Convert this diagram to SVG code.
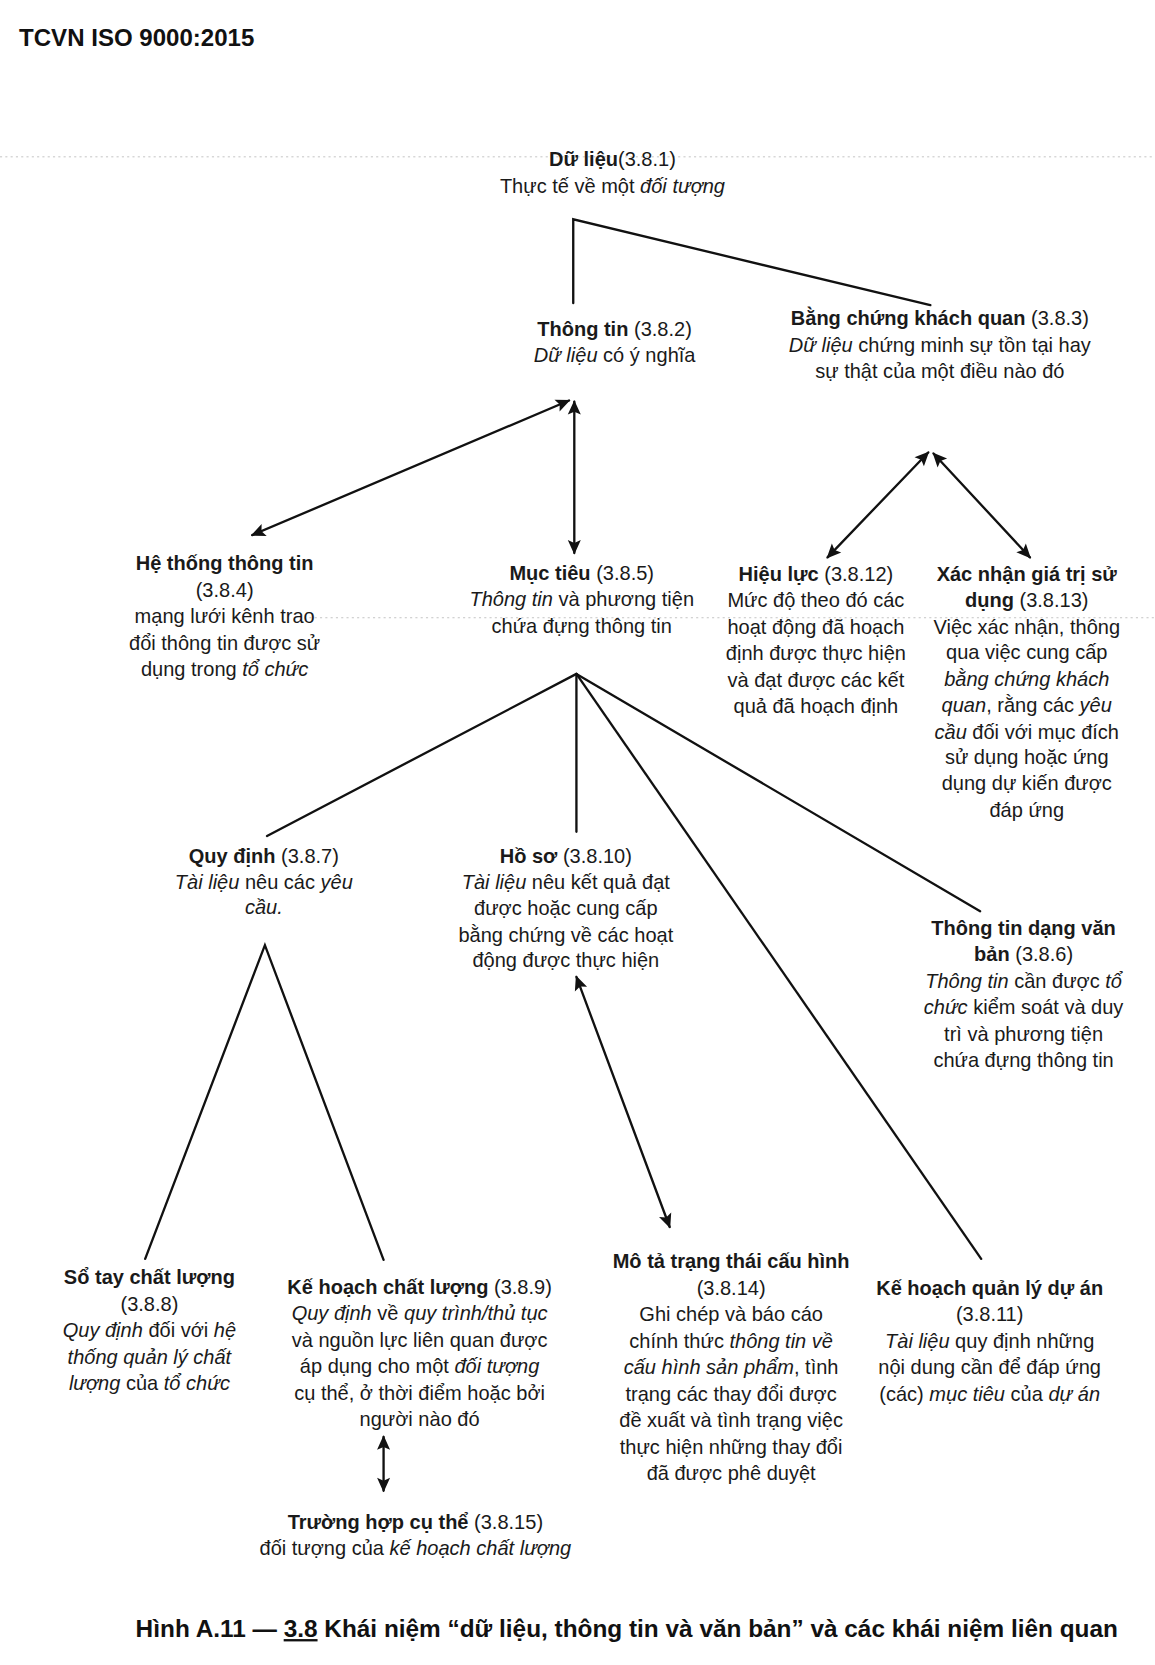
<svg xmlns="http://www.w3.org/2000/svg" width="1155" height="1665" viewBox="0 0 1155 1665">
<defs>
<style>
.t{font-family:"Liberation Sans",Arial,sans-serif;font-size:18.9px;fill:#1a1a1a;text-anchor:middle}
.b{font-weight:bold}
.i{font-style:italic}
.ln{stroke:#111;stroke-width:2.2;fill:none;stroke-linecap:round}
.da{marker-start:url(#ah);marker-end:url(#ah)}
.dot{stroke:#bbb;stroke-width:0.8;stroke-dasharray:2 3;fill:none}
</style>
<marker id="ah" viewBox="0 0 10 10" refX="9" refY="5" markerWidth="7" markerHeight="6.2" orient="auto-start-reverse" markerUnits="strokeWidth">
<path d="M0,0.5 L10,5 L0,9.5 L2,5 z" fill="#111"/>
</marker>
</defs>
<rect width="1155" height="1665" fill="#fff"/>
<g transform="scale(1.0596)">
<g id="artifacts">
<line class="dot" x1="0" y1="148" x2="1090" y2="148"/>
<line class="dot" x1="292" y1="583" x2="1090" y2="583"/>
</g>
<text id="title" x="18" y="43" style="font-family:'Liberation Sans',Arial,sans-serif;font-size:22.7px;font-weight:bold;fill:#111">TCVN ISO 9000:2015</text>

<g id="connectors">
<polyline class="ln" points="541,286 541,207 878,288"/>
<line class="ln da" x1="537" y1="378" x2="238" y2="505"/>
<line class="ln da" x1="542" y1="379" x2="542" y2="522"/>
<line class="ln da" x1="876" y1="427" x2="781" y2="526"/>
<line class="ln da" x1="881" y1="428" x2="972" y2="526"/>
<line class="ln" x1="544" y1="636" x2="252" y2="789"/>
<line class="ln" x1="544" y1="636" x2="544" y2="785"/>
<line class="ln" x1="544" y1="636" x2="925" y2="860"/>
<line class="ln" x1="544" y1="636" x2="926" y2="1188"/>
<polyline class="ln" points="137,1188 250,892 362,1189"/>
<line class="ln da" x1="544" y1="922" x2="632" y2="1158"/>
<line class="ln da" x1="362" y1="1356" x2="362" y2="1407"/>
</g>

<g id="n381" class="t">
<text x="578" y="157"><tspan class="b">Dữ liệu</tspan>(3.8.1)</text>
<text x="578" y="182">Thực tế về một <tspan class="i">đối tượng</tspan></text>
</g>
<g id="n382" class="t">
<text x="580" y="317"><tspan class="b">Thông tin</tspan> (3.8.2)</text>
<text x="580" y="342"><tspan class="i">Dữ liệu</tspan> có ý nghĩa</text>
</g>
<g id="n383" class="t">
<text x="887" y="307"><tspan class="b">Bằng chứng khách quan</tspan> (3.8.3)</text>
<text x="887" y="332"><tspan class="i">Dữ liệu</tspan> chứng minh sự tồn tại hay</text>
<text x="887" y="357">sự thật của một điều nào đó</text>
</g>
<g id="n384" class="t">
<text x="212" y="538" class="b">Hệ thống thông tin</text>
<text x="212" y="563">(3.8.4)</text>
<text x="212" y="588">mạng lưới kênh trao</text>
<text x="212" y="613">đổi thông tin được sử</text>
<text x="212" y="638">dụng trong <tspan class="i">tổ chức</tspan></text>
</g>
<g id="n385" class="t">
<text x="549" y="547"><tspan class="b">Mục tiêu</tspan> (3.8.5)</text>
<text x="549" y="572"><tspan class="i">Thông tin</tspan> và phương tiện</text>
<text x="549" y="597">chứa đựng thông tin</text>
</g>
<g id="n3812" class="t">
<text x="770" y="548"><tspan class="b">Hiệu lực</tspan> (3.8.12)</text>
<text x="770" y="573">Mức độ theo đó các</text>
<text x="770" y="598">hoạt động đã hoạch</text>
<text x="770" y="623">định được thực hiện</text>
<text x="770" y="648">và đạt được các kết</text>
<text x="770" y="673">quả đã hoạch định</text>
</g>
<g id="n3813" class="t">
<text x="969" y="548" class="b">Xác nhận giá trị sử</text>
<text x="969" y="573"><tspan class="b">dụng</tspan> (3.8.13)</text>
<text x="969" y="598">Việc xác nhận, thông</text>
<text x="969" y="622">qua việc cung cấp</text>
<text x="969" y="647" class="i">bằng chứng khách</text>
<text x="969" y="672"><tspan class="i">quan</tspan>, rằng các <tspan class="i">yêu</tspan></text>
<text x="969" y="697"><tspan class="i">cầu</tspan>  đối với mục đích</text>
<text x="969" y="721">sử dụng hoặc ứng</text>
<text x="969" y="746">dụng dự kiến được</text>
<text x="969" y="771">đáp ứng</text>
</g>
<g id="n387" class="t">
<text x="249" y="814"><tspan class="b">Quy định</tspan> (3.8.7)</text>
<text x="249" y="839"><tspan class="i">Tài liệu</tspan> nêu các <tspan class="i">yêu</tspan></text>
<text x="249" y="863" class="i">cầu.</text>
</g>
<g id="n3810" class="t">
<text x="534" y="814"><tspan class="b">Hồ sơ</tspan> (3.8.10)</text>
<text x="534" y="839"><tspan class="i">Tài liệu</tspan> nêu kết quả đạt</text>
<text x="534" y="864">được hoặc cung cấp</text>
<text x="534" y="889">bằng chứng về các hoạt</text>
<text x="534" y="913">động được thực hiện</text>
</g>
<g id="n386" class="t">
<text x="966" y="882" class="b">Thông tin dạng văn</text>
<text x="966" y="907"><tspan class="b">bản</tspan> (3.8.6)</text>
<text x="966" y="932"><tspan class="i">Thông tin</tspan> cần được <tspan class="i">tổ</tspan></text>
<text x="966" y="957"><tspan class="i">chức</tspan> kiểm soát và duy</text>
<text x="966" y="982">trì và phương tiện</text>
<text x="966" y="1007">chứa đựng thông tin</text>
</g>
<g id="n388" class="t">
<text x="141" y="1212" class="b">Sổ tay chất lượng</text>
<text x="141" y="1237">(3.8.8)</text>
<text x="141" y="1262"><tspan class="i">Quy định</tspan> đối với <tspan class="i">hệ</tspan></text>
<text x="141" y="1287" class="i">thống quản lý chất</text>
<text x="141" y="1312"><tspan class="i">lượng</tspan>  của <tspan class="i">tổ chức</tspan></text>
</g>
<g id="n389" class="t">
<text x="396" y="1221"><tspan class="b">Kế hoạch chất lượng</tspan> (3.8.9)</text>
<text x="396" y="1246"><tspan class="i">Quy định</tspan> về <tspan class="i">quy trình/thủ tục</tspan></text>
<text x="396" y="1271">và nguồn lực liên quan được</text>
<text x="396" y="1296">áp dụng cho một <tspan class="i">đối tượng</tspan></text>
<text x="396" y="1321">cụ thể, ở thời điểm hoặc bởi</text>
<text x="396" y="1346">người nào đó</text>
</g>
<g id="n3815" class="t">
<text x="392" y="1443"><tspan class="b">Trường hợp cụ thể</tspan> (3.8.15)</text>
<text x="392" y="1468">đối tượng của <tspan class="i">kế hoạch chất lượng</tspan></text>
</g>
<g id="n3814" class="t">
<text x="690" y="1197" class="b">Mô tả trạng thái cấu hình</text>
<text x="690" y="1222">(3.8.14)</text>
<text x="690" y="1247">Ghi chép và báo cáo</text>
<text x="690" y="1272">chính thức <tspan class="i">thông tin về</tspan></text>
<text x="690" y="1297"><tspan class="i">cấu hình sản phẩm</tspan>, tình</text>
<text x="690" y="1322">trạng các thay đổi được</text>
<text x="690" y="1347">đề xuất và tình trạng việc</text>
<text x="690" y="1372">thực hiện những thay đổi</text>
<text x="690" y="1397">đã được phê duyệt</text>
</g>
<g id="n3811" class="t">
<text x="934" y="1222" class="b">Kế hoạch quản lý dự án</text>
<text x="934" y="1247">(3.8.11)</text>
<text x="934" y="1272"><tspan class="i">Tài liệu</tspan> quy định những</text>
<text x="934" y="1297">nội dung cần để đáp ứng</text>
<text x="934" y="1322">(các) <tspan class="i">mục tiêu</tspan> của <tspan class="i">dự án</tspan></text>
</g>
<text id="caption" x="128" y="1545" textLength="927" lengthAdjust="spacingAndGlyphs" style="font-family:'Liberation Sans',Arial,sans-serif;font-size:22px;font-weight:bold;fill:#111">Hình A.11 — <tspan style="text-decoration:underline">3.8</tspan> Khái niệm “dữ liệu, thông tin và văn bản” và các khái niệm liên quan</text>
</g>
</svg>
